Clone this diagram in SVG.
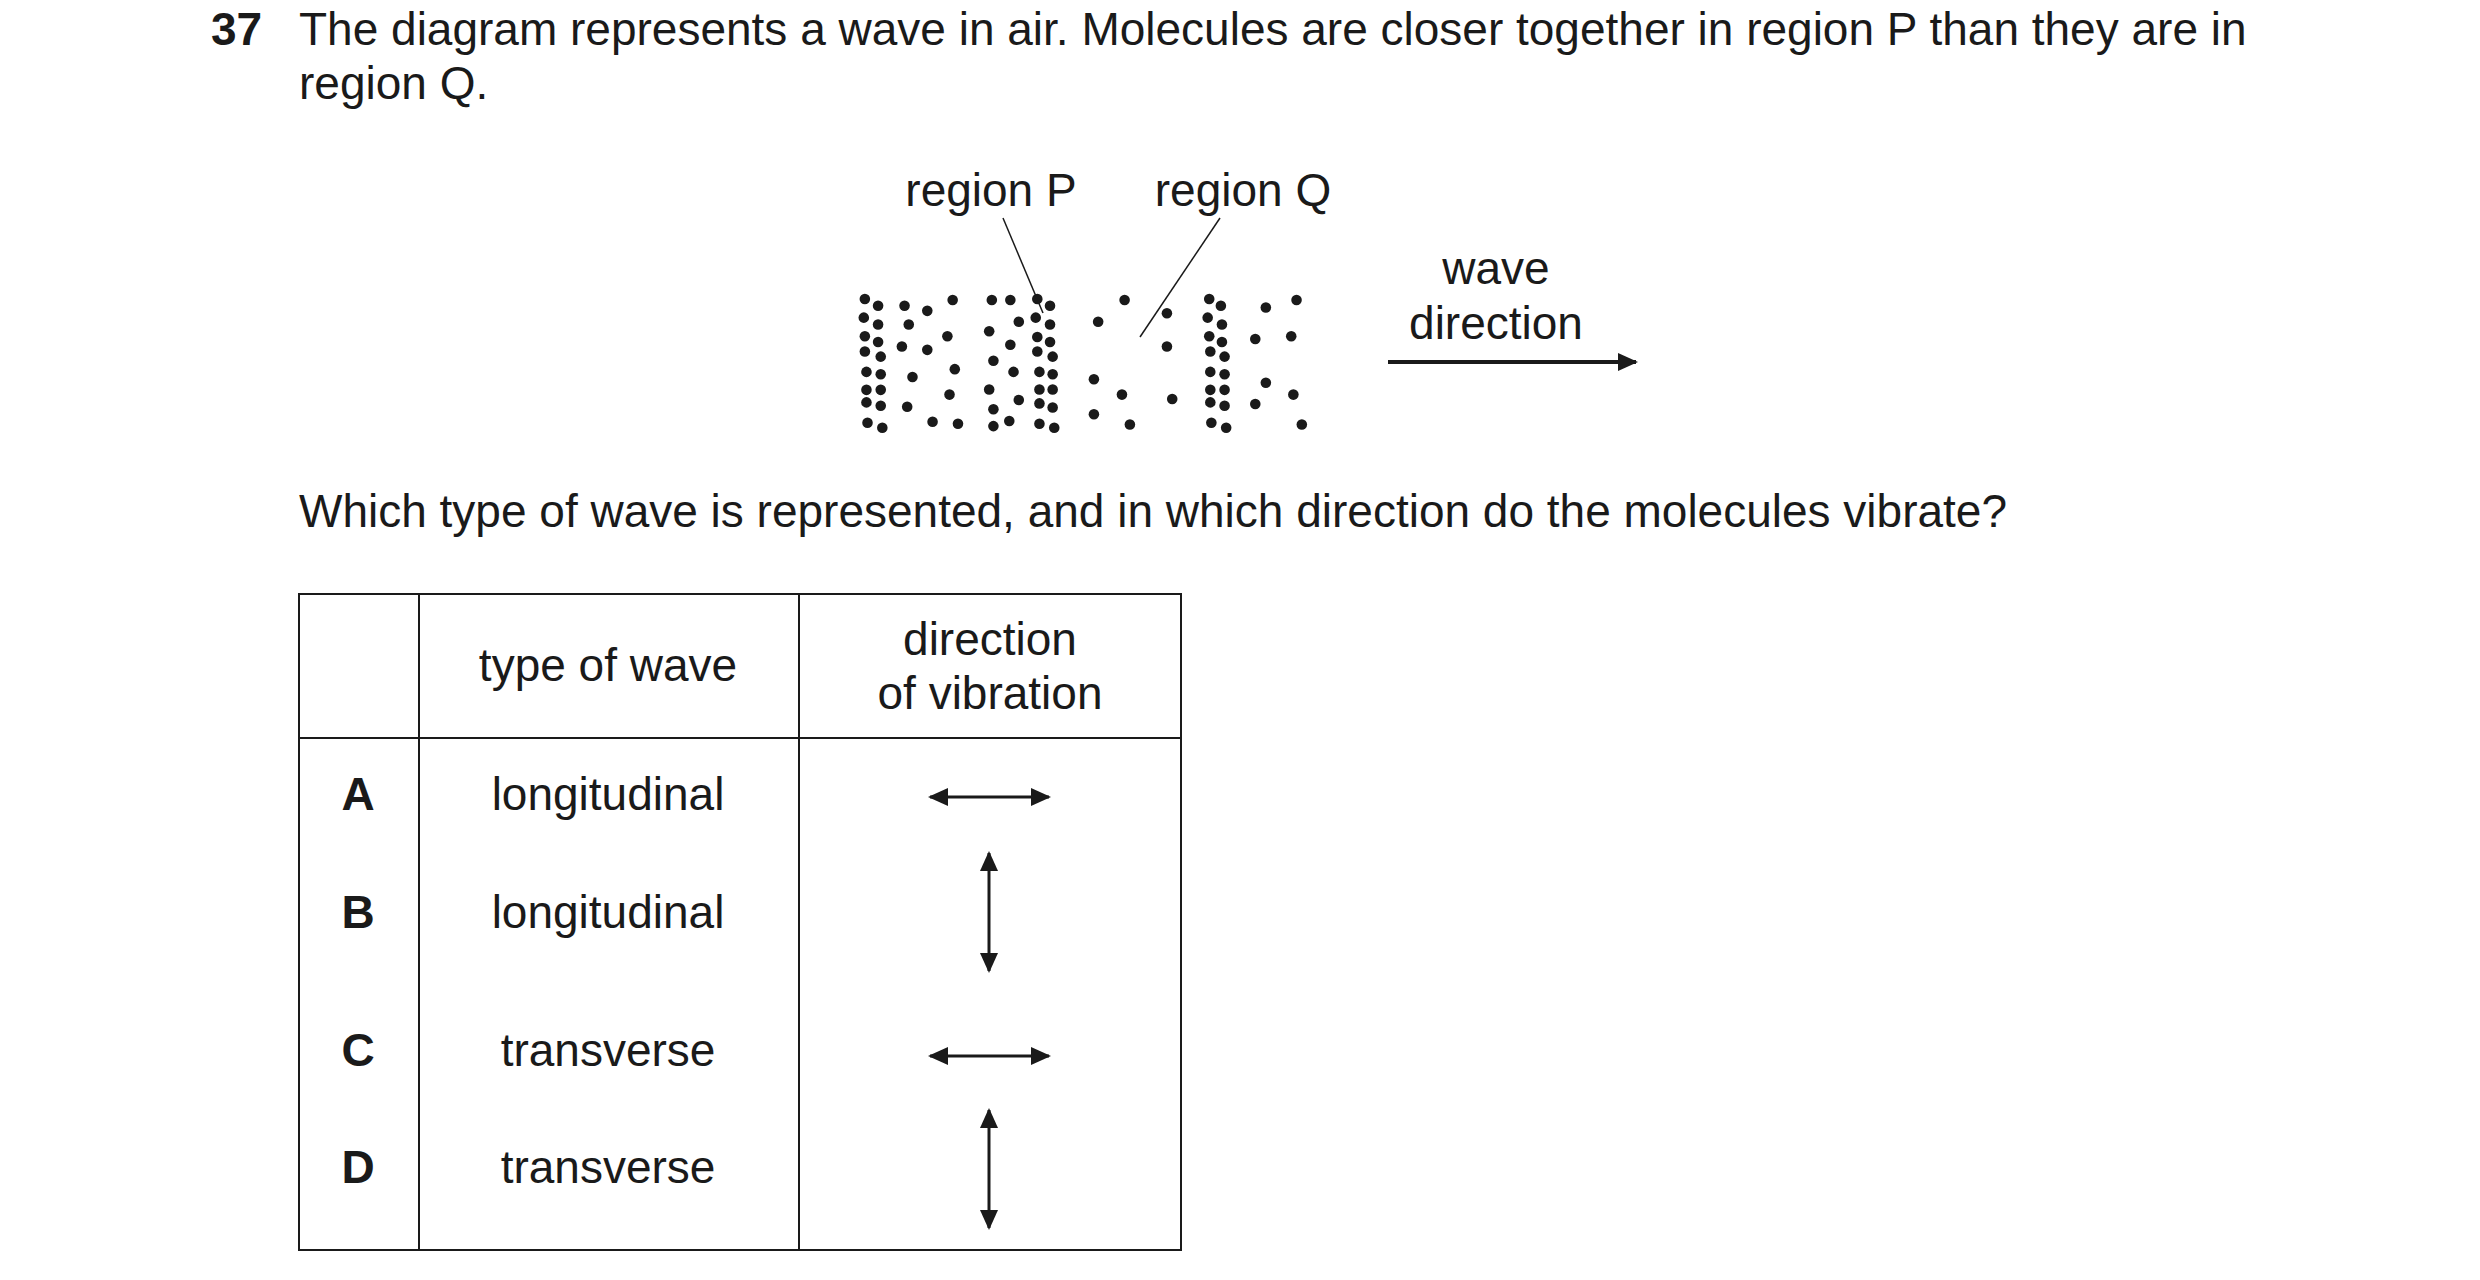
<svg xmlns="http://www.w3.org/2000/svg" width="2480" height="1280" viewBox="0 0 2480 1280">
<style>
text{font-family:"Liberation Sans",Arial,sans-serif;font-size:46px;fill:#1a1a1a}
.c{text-anchor:middle}
.b{font-weight:bold}
.ln{stroke:#1a1a1a;fill:none}
ellipse{fill:#1a1a1a}
</style>
<defs>
<marker id="ah" viewBox="0 0 10 10" refX="9" refY="5" markerWidth="34" markerHeight="20" markerUnits="userSpaceOnUse" orient="auto-start-reverse"><path d="M0,0.5 L10,5 L0,9.5 z" fill="#1a1a1a"/></marker>
</defs>
<g id="question">
<text x="211" y="45" class="b">37</text>
<text x="299" y="45">The diagram represents a wave in air. Molecules are closer together in region P than they are in</text>
<text x="299" y="99">region Q.</text>
<text x="299" y="527">Which type of wave is represented, and in which direction do the molecules vibrate?</text>
</g>
<g id="labels">
<text x="991" y="206" class="c">region P</text>
<text x="1243" y="206" class="c">region Q</text>
<text x="1496" y="284" class="c">wave</text>
<text x="1496" y="339" class="c">direction</text>
</g>
<g id="dots" transform="translate(840,160) scale(0.529,0.339)">
<ellipse cx="47" cy="410" rx="10" ry="15.6"/><ellipse cx="72" cy="430" rx="10" ry="15.6"/><ellipse cx="45" cy="465" rx="10" ry="15.6"/><ellipse cx="72" cy="485" rx="10" ry="15.6"/><ellipse cx="47" cy="520" rx="10" ry="15.6"/><ellipse cx="72" cy="537" rx="10" ry="15.6"/><ellipse cx="47" cy="565" rx="10" ry="15.6"/><ellipse cx="77" cy="580" rx="10" ry="15.6"/><ellipse cx="50" cy="625" rx="10" ry="15.6"/><ellipse cx="77" cy="632" rx="10" ry="15.6"/><ellipse cx="50" cy="678" rx="10" ry="15.6"/><ellipse cx="77" cy="678" rx="10" ry="15.6"/><ellipse cx="50" cy="715" rx="10" ry="15.6"/><ellipse cx="77" cy="725" rx="10" ry="15.6"/><ellipse cx="52" cy="775" rx="10" ry="15.6"/><ellipse cx="80" cy="790" rx="10" ry="15.6"/>
<ellipse cx="122" cy="430" rx="10" ry="15.6"/><ellipse cx="165" cy="445" rx="10" ry="15.6"/><ellipse cx="213" cy="413" rx="10" ry="15.6"/><ellipse cx="130" cy="485" rx="10" ry="15.6"/><ellipse cx="203" cy="520" rx="10" ry="15.6"/><ellipse cx="117" cy="550" rx="10" ry="15.6"/><ellipse cx="165" cy="560" rx="10" ry="15.6"/><ellipse cx="217" cy="617" rx="10" ry="15.6"/><ellipse cx="137" cy="640" rx="10" ry="15.6"/><ellipse cx="207" cy="692" rx="10" ry="15.6"/><ellipse cx="127" cy="728" rx="10" ry="15.6"/><ellipse cx="175" cy="772" rx="10" ry="15.6"/><ellipse cx="223" cy="778" rx="10" ry="15.6"/>
<ellipse cx="287" cy="413" rx="10" ry="15.6"/><ellipse cx="322" cy="413" rx="10" ry="15.6"/><ellipse cx="373" cy="410" rx="10" ry="15.6"/><ellipse cx="397" cy="430" rx="10" ry="15.6"/><ellipse cx="338" cy="477" rx="10" ry="15.6"/><ellipse cx="370" cy="465" rx="10" ry="15.6"/><ellipse cx="397" cy="485" rx="10" ry="15.6"/><ellipse cx="282" cy="505" rx="10" ry="15.6"/><ellipse cx="322" cy="545" rx="10" ry="15.6"/><ellipse cx="373" cy="522" rx="10" ry="15.6"/><ellipse cx="397" cy="537" rx="10" ry="15.6"/><ellipse cx="373" cy="565" rx="10" ry="15.6"/><ellipse cx="402" cy="580" rx="10" ry="15.6"/><ellipse cx="290" cy="592" rx="10" ry="15.6"/><ellipse cx="328" cy="625" rx="10" ry="15.6"/><ellipse cx="377" cy="625" rx="10" ry="15.6"/><ellipse cx="402" cy="632" rx="10" ry="15.6"/><ellipse cx="282" cy="677" rx="10" ry="15.6"/><ellipse cx="377" cy="677" rx="10" ry="15.6"/><ellipse cx="402" cy="677" rx="10" ry="15.6"/><ellipse cx="338" cy="708" rx="10" ry="15.6"/><ellipse cx="290" cy="735" rx="10" ry="15.6"/><ellipse cx="377" cy="718" rx="10" ry="15.6"/><ellipse cx="402" cy="730" rx="10" ry="15.6"/><ellipse cx="290" cy="785" rx="10" ry="15.6"/><ellipse cx="320" cy="770" rx="10" ry="15.6"/><ellipse cx="377" cy="778" rx="10" ry="15.6"/><ellipse cx="405" cy="790" rx="10" ry="15.6"/>
<ellipse cx="538" cy="413" rx="10" ry="15.6"/><ellipse cx="488" cy="477" rx="10" ry="15.6"/><ellipse cx="618" cy="452" rx="10" ry="15.6"/><ellipse cx="618" cy="550" rx="10" ry="15.6"/><ellipse cx="480" cy="647" rx="10" ry="15.6"/><ellipse cx="533" cy="692" rx="10" ry="15.6"/><ellipse cx="628" cy="705" rx="10" ry="15.6"/><ellipse cx="480" cy="750" rx="10" ry="15.6"/><ellipse cx="548" cy="780" rx="10" ry="15.6"/>
<ellipse cx="698" cy="410" rx="10" ry="15.6"/><ellipse cx="720" cy="430" rx="10" ry="15.6"/><ellipse cx="695" cy="465" rx="10" ry="15.6"/><ellipse cx="722" cy="485" rx="10" ry="15.6"/><ellipse cx="698" cy="520" rx="10" ry="15.6"/><ellipse cx="722" cy="537" rx="10" ry="15.6"/><ellipse cx="700" cy="565" rx="10" ry="15.6"/><ellipse cx="727" cy="580" rx="10" ry="15.6"/><ellipse cx="700" cy="625" rx="10" ry="15.6"/><ellipse cx="727" cy="632" rx="10" ry="15.6"/><ellipse cx="700" cy="678" rx="10" ry="15.6"/><ellipse cx="727" cy="678" rx="10" ry="15.6"/><ellipse cx="700" cy="715" rx="10" ry="15.6"/><ellipse cx="727" cy="725" rx="10" ry="15.6"/><ellipse cx="702" cy="775" rx="10" ry="15.6"/><ellipse cx="730" cy="790" rx="10" ry="15.6"/>
<ellipse cx="805" cy="435" rx="10" ry="15.6"/><ellipse cx="863" cy="413" rx="10" ry="15.6"/><ellipse cx="785" cy="528" rx="10" ry="15.6"/><ellipse cx="853" cy="520" rx="10" ry="15.6"/><ellipse cx="805" cy="657" rx="10" ry="15.6"/><ellipse cx="857" cy="692" rx="10" ry="15.6"/><ellipse cx="785" cy="720" rx="10" ry="15.6"/><ellipse cx="873" cy="780" rx="10" ry="15.6"/>
</g>
<g id="connectors">
<line class="ln" x1="1003" y1="218" x2="1043" y2="313" stroke-width="1.5"/>
<line class="ln" x1="1220" y1="218" x2="1140" y2="337" stroke-width="1.5"/>
<line class="ln" x1="1388" y1="362" x2="1636" y2="362" stroke-width="4" marker-end="url(#ah)"/>
</g>
<g id="table">
<rect class="ln" x="299" y="594" width="882" height="656" stroke-width="2"/>
<line class="ln" x1="419" y1="594" x2="419" y2="1250" stroke-width="2"/>
<line class="ln" x1="799" y1="594" x2="799" y2="1250" stroke-width="2"/>
<line class="ln" x1="299" y1="738" x2="1181" y2="738" stroke-width="2"/>
<text x="608" y="681" class="c">type of wave</text>
<text x="990" y="655" class="c">direction</text>
<text x="990" y="709" class="c">of vibration</text>
<text x="358" y="810" class="c b">A</text>
<text x="358" y="928" class="c b">B</text>
<text x="358" y="1066" class="c b">C</text>
<text x="358" y="1183" class="c b">D</text>
<text x="608" y="810" class="c">longitudinal</text>
<text x="608" y="928" class="c">longitudinal</text>
<text x="608" y="1066" class="c">transverse</text>
<text x="608" y="1183" class="c">transverse</text>
<line class="ln" x1="930" y1="797" x2="1049" y2="797" stroke-width="3" marker-start="url(#ah)" marker-end="url(#ah)"/>
<line class="ln" x1="989" y1="853" x2="989" y2="971" stroke-width="3" marker-start="url(#ah)" marker-end="url(#ah)"/>
<line class="ln" x1="930" y1="1056" x2="1049" y2="1056" stroke-width="3" marker-start="url(#ah)" marker-end="url(#ah)"/>
<line class="ln" x1="989" y1="1110" x2="989" y2="1228" stroke-width="3" marker-start="url(#ah)" marker-end="url(#ah)"/>
</g>
</svg>
